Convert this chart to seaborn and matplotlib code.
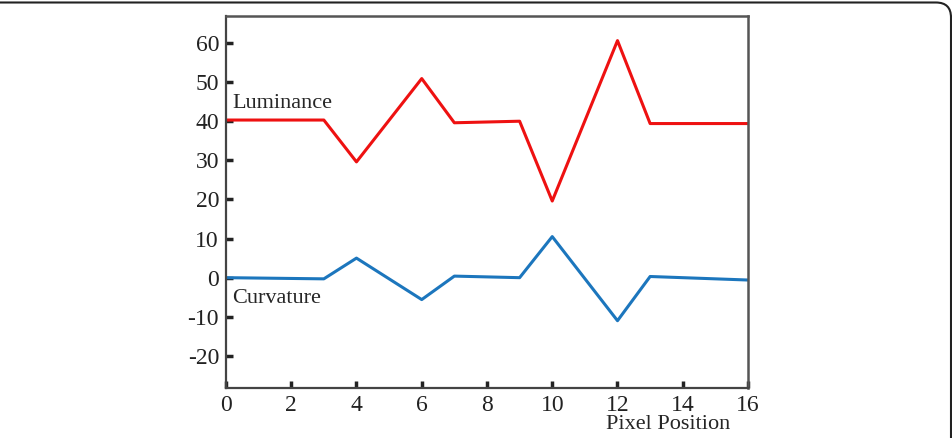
import pandas as pd
import seaborn as sns
import matplotlib.pyplot as plt
from matplotlib.patches import FancyBboxPatch

# values
pixel_pos = [0, 3, 4, 6, 7, 9, 10, 12, 13, 16]
luminance = [40.3, 40.3, 29.6, 50.9, 39.6, 40.0, 19.6, 60.6, 39.4, 39.4]
curvature = [0.0, -0.3, 5.0, -5.6, 0.4, 0.0, 10.5, -11.0, 0.3, -0.6]
x_ticks = [0, 2, 4, 6, 8, 10, 12, 14, 16]
y_ticks = [-20, -10, 0, 10, 20, 30, 40, 50, 60]

df = pd.DataFrame({'pos': pixel_pos, 'Luminance': luminance, 'Curvature': curvature})

sns.set_style('white')
plt.rcParams['font.family'] = ['Liberation Serif', 'DejaVu Serif']
plt.rcParams['axes.unicode_minus'] = False

fig = plt.figure(figsize=(9.53, 4.38), dpi=100)
ax = fig.add_axes([0.2371, 0.1142, 0.5478, 0.8493])

sns.lineplot(data=df, x='pos', y='Luminance', color='#ee1111', linewidth=2.2, ax=ax)
sns.lineplot(data=df, x='pos', y='Curvature', color='#1c76bd', linewidth=2.2, ax=ax)

ax.set_xlim(0, 16)
ax.set_ylim(-28.2, 66.9)
ax.set_xticks(x_ticks)
ax.set_yticks(y_ticks)
ax.tick_params(bottom=True, left=True, direction='in', length=5, width=2.5,
               colors='#222222', labelsize=17, pad=5)
ax.set_ylabel('')
ax.set_xlabel('Pixel Position', fontsize=16)
ax.xaxis.set_label_coords(0.847, -0.072)

ax.text(0.2, 44.5, 'Luminance', fontsize=16, va='center', ha='left')
ax.text(0.2, -5.2, 'Curvature', fontsize=16, va='center', ha='left')

for side in ['left', 'bottom']:
    ax.spines[side].set_color('#444444')
    ax.spines[side].set_linewidth(1.6)
for side in ['top', 'right']:
    ax.spines[side].set_color('#555555')
    ax.spines[side].set_linewidth(1.8)

# outer rounded frame of the figure
frame = FancyBboxPatch((-1, -1), 10.51, 5.355, boxstyle='round,pad=0,rounding_size=0.15',
                       transform=fig.dpi_scale_trans, fill=False, edgecolor='#222222',
                       linewidth=1.5, clip_on=False)
fig.patches.append(frame)

fig.savefig('out.png', dpi=100)
